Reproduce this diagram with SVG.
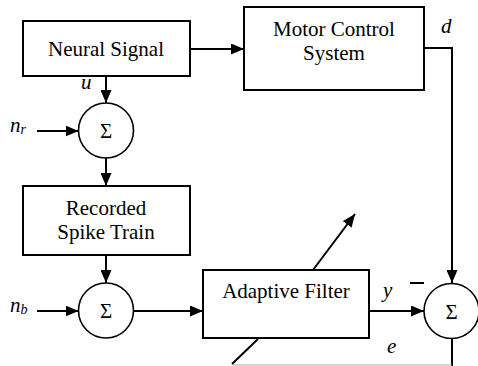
<svg xmlns="http://www.w3.org/2000/svg" width="478" height="366" viewBox="0 0 478 366">
<defs>
<marker id="ah" markerWidth="13" markerHeight="11" refX="13" refY="5.5" orient="auto" markerUnits="userSpaceOnUse">
<path d="M0,0 L13,5.5 L0,11 Z" fill="#000"/>
</marker>
</defs>
<style>
.box{fill:#fff;stroke:#000;stroke-width:2}
.sum{fill:#fff;stroke:#000;stroke-width:1.6}
.ln{fill:none;stroke:#000;stroke-width:2}
.t{font-size:21px;text-anchor:middle}
.s{font-size:21px;text-anchor:middle}
.v{font-size:21px;font-style:italic}
.sub{font-size:14px}
</style>
<rect width="478" height="366" fill="#fff"/>
<g id="connectors">
<line class="ln" x1="190" y1="49" x2="244" y2="49" marker-end="url(#ah)"/>
<polyline class="ln" points="424,48 452,48 452,283" marker-end="url(#ah)"/>
<line class="ln" x1="106" y1="76" x2="106" y2="103" marker-end="url(#ah)"/>
<line class="ln" x1="37" y1="131" x2="78.5" y2="131" marker-end="url(#ah)"/>
<line class="ln" x1="106" y1="158" x2="106" y2="186" marker-end="url(#ah)"/>
<line class="ln" x1="106" y1="255" x2="106" y2="283" marker-end="url(#ah)"/>
<line class="ln" x1="37" y1="311" x2="78.5" y2="311" marker-end="url(#ah)"/>
<line class="ln" x1="133.5" y1="311" x2="203" y2="311" marker-end="url(#ah)"/>
<line class="ln" x1="369" y1="311" x2="424" y2="311" marker-end="url(#ah)"/>
<line class="ln" x1="452" y1="339" x2="452" y2="366"/>
<line x1="233" y1="365" x2="452" y2="365" stroke="#aaa" stroke-width="1.2"/>
<line class="ln" x1="232" y1="364" x2="258" y2="339"/>
<line class="ln" x1="313" y1="270" x2="355" y2="214" marker-end="url(#ah)"/>
<line x1="410" y1="283" x2="424" y2="283" stroke="#000" stroke-width="2"/>
</g>
<g font-family="Liberation Serif, Tinos, Times New Roman, Times, Noto Serif, DejaVu Serif, serif" fill="#000">
<g id="neural-signal">
<rect class="box" x="23" y="21" width="167" height="55"/>
<text class="t" x="106" y="56">Neural Signal</text>
</g>
<g id="motor-control">
<rect class="box" x="244" y="7" width="180" height="83"/>
<text class="t" x="334" y="36">Motor Control</text>
<text class="t" x="334" y="60">System</text>
</g>
<g id="sum-r">
<circle class="sum" cx="106" cy="130.5" r="27.5"/>
<text class="s" x="106" y="138">Σ</text>
</g>
<g id="recorded">
<rect class="box" x="23" y="186" width="167" height="69"/>
<text class="t" x="106" y="215">Recorded</text>
<text class="t" x="106" y="239">Spike Train</text>
</g>
<g id="sum-b">
<circle class="sum" cx="106" cy="310.5" r="27.5"/>
<text class="s" x="106" y="318">Σ</text>
</g>
<g id="adaptive-filter">
<rect class="box" x="203" y="270" width="166" height="68"/>
<text class="t" x="286" y="298">Adaptive Filter</text>
</g>
<g id="sum-e">
<circle class="sum" cx="451.5" cy="311" r="27.5"/>
<text class="s" x="451.5" y="318.5">Σ</text>
</g>
<g id="labels">
<text class="v" x="81" y="89">u</text>
<text class="v" x="10" y="132">n<tspan class="sub" dy="2">r</tspan></text>
<text class="v" x="10" y="312">n<tspan class="sub" dy="2">b</tspan></text>
<text class="v" x="441" y="33">d</text>
<text class="v" x="383" y="297">y</text>
<text class="v" x="387" y="353">e</text>
</g>
</g>
</svg>
